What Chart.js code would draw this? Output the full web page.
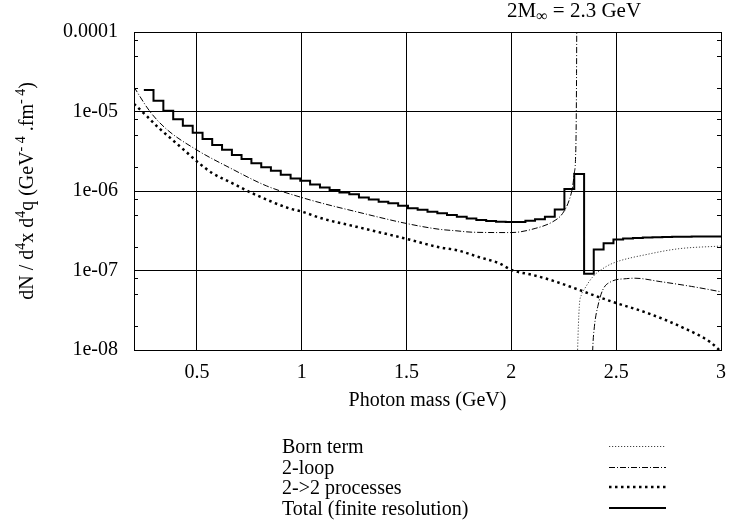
<!DOCTYPE html>
<html><head><meta charset="utf-8">
<script src="https://cdn.jsdelivr.net/npm/chart.js@4.4.0/dist/chart.umd.min.js"></script>
<style>html,body{margin:0;padding:0;background:#fff;}#wrap{width:730px;height:529px;position:relative;}canvas{display:block;}</style>
</head><body><div id="wrap"><canvas id="c" width="730" height="529"></canvas></div>
<script>
// ---------- data ----------
const xTickValues = [0.5, 1, 1.5, 2, 2.5, 3];
const xTickLabels = ['0.5', '1', '1.5', '2', '2.5', '3'];
const yTickValues = [1e-8, 1e-7, 1e-6, 1e-5, 1e-4];
const yTickLabels = ['1e-08', '1e-07', '1e-06', '1e-05', '0.0001'];
const yMinorMantissas = [2, 5, 8];

const legendLabels = ['Born term', '2-loop', '2->2 processes', 'Total (finite resolution)'];

// Born term (exists above threshold)
const bornX = [2.3135, 2.316, 2.324, 2.335, 2.348, 2.388, 2.452, 2.5, 2.65, 2.8, 3.0];
const bornY = [5e-9, 1e-8, 3.5e-8, 5e-8, 5.8e-8, 8.3e-8, 1.12e-7, 1.28e-7, 1.6e-7, 1.88e-7, 2.03e-7];

// 2-loop, below threshold
const loopLowX = [0.2, 0.276, 0.355, 0.498, 0.658, 0.832, 0.999, 1.099, 1.259, 1.5, 1.656, 1.736, 1.815, 1.998, 2.117, 2.197, 2.244, 2.276, 2.292, 2.300, 2.306, 2.309, 2.311, 2.312];
const loopLowY = [2.03e-5, 1.0e-5, 6.0e-6, 3.3e-6, 1.95e-6, 1.16e-6, 8.3e-7, 7.0e-7, 5.5e-7, 3.9e-7, 3.3e-7, 3.16e-7, 3.03e-7, 3.0e-7, 3.4e-7, 4.1e-7, 5.2e-7, 7.7e-7, 1.13e-6, 1.67e-6, 2.5e-6, 6e-6, 3e-5, 1.3e-4];
// 2-loop, above threshold
const loopHighX = [2.385, 2.388, 2.396, 2.412, 2.436, 2.476, 2.55, 2.59, 2.71, 2.86, 3.0];
const loopHighY = [5e-9, 1e-8, 1.96e-8, 3.5e-8, 5.7e-8, 7.25e-8, 7.9e-8, 8.0e-8, 7.25e-8, 6.3e-8, 5.4e-8];

// 2->2 processes
const procX = [0.2, 0.264, 0.32, 0.384, 0.448, 0.511, 0.575, 0.67, 0.765, 0.94, 1.0, 1.099, 1.259, 1.5, 1.656, 1.74, 1.847, 1.943, 2.003, 2.101, 2.197, 2.3, 2.42, 2.5, 2.66, 2.82, 2.95, 3.0];
const procY = [1.25e-5, 8.6e-6, 6.15e-6, 4.38e-6, 3.12e-6, 2.23e-6, 1.67e-6, 1.25e-6, 9.35e-7, 6.05e-7, 5.5e-7, 4.5e-7, 3.56e-7, 2.5e-7, 1.96e-7, 1.8e-7, 1.47e-7, 1.23e-7, 1.01e-7, 8.8e-8, 7.45e-8, 6.0e-8, 4.6e-8, 3.9e-8, 2.85e-8, 1.9e-8, 1.25e-8, 9.5e-9];

// Total (finite resolution): bin left edges and bin values (last edge closes the final bin)
const totalEdges = [0.247, 0.293, 0.340, 0.387, 0.433, 0.480, 0.527, 0.573, 0.620, 0.667,
  0.713, 0.760, 0.807, 0.853, 0.900, 0.947, 0.993, 1.040, 1.087, 1.133,
  1.180, 1.227, 1.273, 1.320, 1.367, 1.413, 1.460, 1.507, 1.553, 1.600,
  1.647, 1.693, 1.740, 1.787, 1.833, 1.880, 1.927, 1.973, 2.020, 2.067,
  2.113, 2.160, 2.207, 2.253, 2.300, 2.347, 2.393, 2.440, 2.487, 2.533,
  2.580, 2.627, 2.673, 2.720, 2.767, 2.813, 2.860, 2.907, 2.953, 3.000];
const totalValues = [1.86e-5, 1.37e-5, 1.02e-5, 8.0e-6, 6.6e-6, 5.4e-6, 4.5e-6, 3.8e-6, 3.3e-6, 2.84e-6,
  2.53e-6, 2.23e-6, 1.99e-6, 1.80e-6, 1.60e-6, 1.44e-6, 1.35e-6, 1.21e-6, 1.11e-6, 1.03e-6,
  9.6e-7, 9.1e-7, 8.3e-7, 7.8e-7, 7.3e-7, 7.0e-7, 6.5e-7, 6.05e-7, 5.8e-7, 5.5e-7,
  5.25e-7, 5.0e-7, 4.75e-7, 4.5e-7, 4.32e-7, 4.2e-7, 4.11e-7, 4.07e-7, 4.07e-7, 4.23e-7,
  4.4e-7, 4.75e-7, 5.85e-7, 1.06e-6, 1.64e-6, 9.1e-8, 1.84e-7, 2.2e-7, 2.46e-7, 2.52e-7,
  2.57e-7, 2.6e-7, 2.62e-7, 2.64e-7, 2.65e-7, 2.66e-7, 2.67e-7, 2.67e-7, 2.68e-7, 2.68e-7];

// ---------- styling ----------
const FONT = "'Liberation Serif', 'Times New Roman', serif";
const zip = (xs, ys) => xs.map((x, i) => ({x: x, y: ys[i]}));

const lineStyles = [
  {borderColor: '#444', borderWidth: 1, borderDash: [1.2, 1.8]},      // Born
  {borderColor: '#000', borderWidth: 1, borderDash: [6, 2, 1, 2]},    // 2-loop
  {borderColor: '#000', borderWidth: 2.5, borderDash: [2.5, 3.5]},    // 2->2
  {borderColor: '#000', borderWidth: 2, borderDash: []}               // total
];

function ds(data, st, extra) {
  return Object.assign({
    data: data, borderColor: st.borderColor, borderWidth: st.borderWidth, borderDash: st.borderDash,
    pointRadius: 0, fill: false, clip: 0, cubicInterpolationMode: 'monotone', tension: 0.4
  }, extra || {});
}

const decor = {
  id: 'decor',
  afterDraw(chart) {
    const ctx = chart.ctx, a = chart.chartArea, ys = chart.scales.y;
    ctx.save();
    // minor ticks on left and right borders
    ctx.strokeStyle = '#000'; ctx.lineWidth = 1; ctx.setLineDash([]);
    for (let d = 0; d < yTickValues.length - 1; d++) {
      for (const m of yMinorMantissas) {
        const py = Math.round(ys.getPixelForValue(yTickValues[d] * m)) + 0.5;
        ctx.beginPath();
        ctx.moveTo(a.left, py); ctx.lineTo(a.left + 4, py);
        ctx.moveTo(a.right, py); ctx.lineTo(a.right - 4, py);
        ctx.stroke();
      }
    }
    ctx.fillStyle = '#000';
    function segWidth(segs, big, small) {
      let w = 0;
      for (const s of segs) { ctx.font = s.k ? small : big; w += ctx.measureText(s.t).width; }
      return w;
    }
    function drawSegs(segs, x0, base, big, small) {
      let x = x0;
      ctx.textBaseline = 'alphabetic'; ctx.textAlign = 'left';
      for (const s of segs) {
        ctx.font = s.k ? small : big;
        const dy = s.k === 'sup' ? -8 : (s.k === 'sub' ? 4 : 0);
        ctx.fillText(s.t, x, base + dy);
        x += ctx.measureText(s.t).width;
      }
    }
    const big = '20px ' + FONT, small = '14px ' + FONT;
    // Y axis title (rotated)
    const ySegs = [{t: 'dN / d'}, {t: '4', k: 'sup'}, {t: 'x d'}, {t: '4', k: 'sup'}, {t: 'q (GeV'},
      {t: '- 4', k: 'sup'}, {t: ' .fm'}, {t: '- 4', k: 'sup'}, {t: ')'}];
    ctx.save();
    ctx.translate(26, (a.top + a.bottom) / 2);
    ctx.rotate(-Math.PI / 2);
    drawSegs(ySegs, -segWidth(ySegs, big, small) / 2, 7, big, small);
    ctx.restore();
    // X axis title
    ctx.font = big; ctx.textAlign = 'center'; ctx.textBaseline = 'alphabetic';
    ctx.fillText('Photon mass (GeV)', (a.left + a.right) / 2, 406);
    // Top-right title
    drawSegs([{t: '2M'}, {t: '\u221E', k: 'sub'}, {t: ' = 2.3 GeV'}], 507, 17, '21px ' + FONT, '16px ' + FONT);
    // Legend
    for (let i = 0; i < legendLabels.length; i++) {
      const base = 453 + i * 20.5;
      ctx.font = big; ctx.textAlign = 'left'; ctx.textBaseline = 'alphabetic';
      ctx.fillText(legendLabels[i], 282, base);
      const st = lineStyles[i];
      ctx.strokeStyle = st.borderColor; ctx.lineWidth = st.borderWidth; ctx.setLineDash(st.borderDash);
      const ly = Math.round(base - 7) + (st.borderWidth % 2 === 1 ? 0.5 : 0);
      ctx.beginPath(); ctx.moveTo(609, ly); ctx.lineTo(666, ly); ctx.stroke();
    }
    ctx.restore();
  }
};

function noPad(s) { s.paddingLeft = 0; s.paddingRight = 0; s.paddingTop = 0; s.paddingBottom = 0; }

new Chart(document.getElementById('c').getContext('2d'), {
  type: 'line',
  data: {
    datasets: [
      ds(zip(totalEdges, totalValues), lineStyles[3], {stepped: true, cubicInterpolationMode: 'default', tension: 0}),
      ds(zip(bornX, bornY), lineStyles[0]),
      ds(zip(loopLowX, loopLowY), lineStyles[1]),
      ds(zip(loopHighX, loopHighY), lineStyles[1]),
      ds(zip(procX, procY), lineStyles[2])
    ]
  },
  options: {
    responsive: false, animation: false, devicePixelRatio: 1,
    layout: {padding: {left: 0, right: 9, top: 32, bottom: 99}},
    plugins: {legend: {display: false}, tooltip: {enabled: false}, title: {display: false}},
    scales: {
      x: {
        type: 'linear', min: 0.2, max: 3,
        afterBuildTicks: s => { s.ticks = xTickValues.map(v => ({value: v})); },
        afterFit: s => { s.height = 80; noPad(s); },
        grid: {color: '#000', lineWidth: 1, drawTicks: false},
        border: {display: true, color: '#000', width: 1},
        ticks: {font: {family: FONT, size: 20}, color: '#000', padding: 11, maxRotation: 0, autoSkip: false,
          callback: (v, i) => xTickLabels[i]}
      },
      y: {
        type: 'logarithmic', min: 1e-8, max: 1e-4,
        afterBuildTicks: s => { s.ticks = yTickValues.map(v => ({value: v})); },
        afterFit: s => { s.width = 134; noPad(s); },
        grid: {color: '#000', lineWidth: 1, drawTicks: false},
        border: {display: true, color: '#000', width: 1},
        ticks: {font: {family: FONT, size: 20}, color: '#000', padding: 16, autoSkip: false,
          callback: (v, i) => yTickLabels[i]}
      }
    }
  },
  plugins: [decor]
});
</script>
</body></html>
